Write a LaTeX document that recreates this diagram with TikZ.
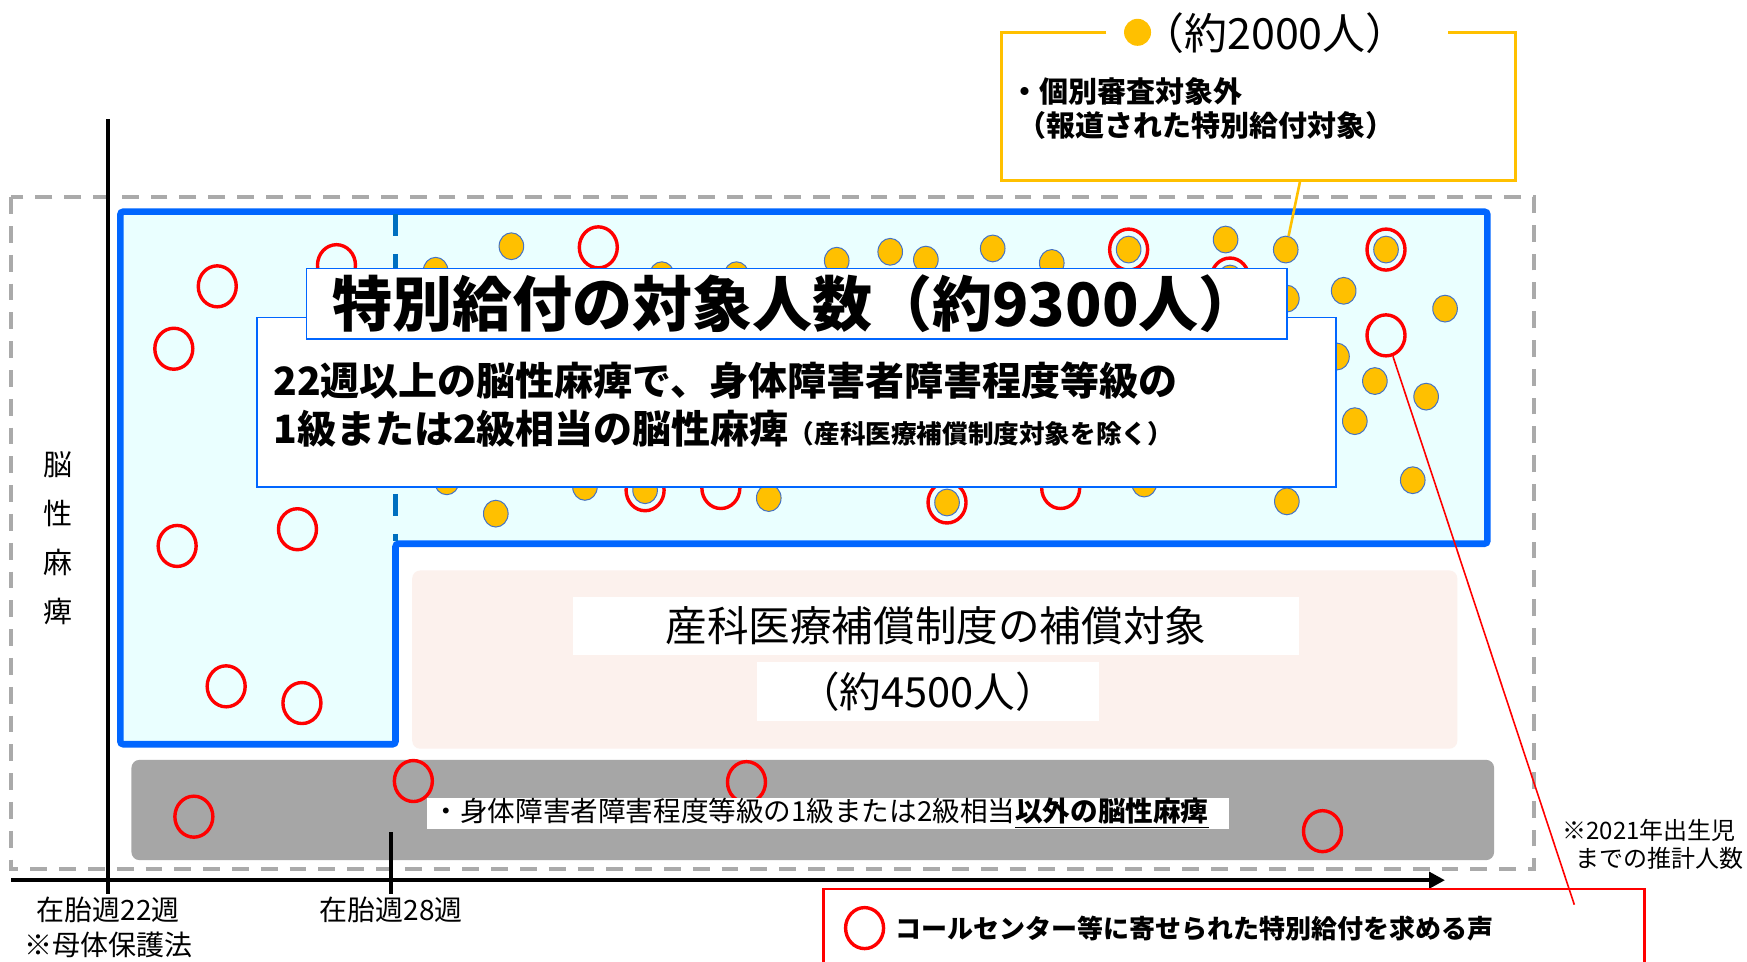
\documentclass[tikz,border=0pt]{standalone}
\usepackage{fontspec}
\setmainfont{Noto Sans CJK JP}
\usetikzlibrary{arrows.meta,shapes.geometric}
\definecolor{lblue}{RGB}{0,102,255}
\definecolor{dblue}{RGB}{0,112,192}
\definecolor{lcyan}{RGB}{234,255,255}
\definecolor{lpink}{RGB}{252,241,237}
\definecolor{mgray}{RGB}{166,166,166}
\definecolor{dashgray}{RGB}{170,170,170}
\definecolor{gold}{RGB}{255,192,0}
\definecolor{dotedge}{RGB}{68,114,196}
\begin{document}
\begin{tikzpicture}[x=0.5571pt,y=-0.5571pt,
  rc/.style={ellipse,draw=red,line width=1.7pt,minimum width=19pt,minimum height=20.5pt,inner sep=0pt},
  yd/.style={ellipse,fill=gold,draw=dotedge,line width=0.5pt,minimum width=12.3pt,minimum height=13.4pt,inner sep=0pt},
  txt/.style={inner sep=0pt,anchor=west},
  whitebox/.style={fill=white,inner sep=0pt},
  bluebox/.style={fill=white,draw=lblue,line width=0.9pt,inner sep=0pt},
  fsz/.style={font=\fontsize{#1}{#1}\selectfont}
]
\useasboundingbox (0,0) rectangle (1568,863);
\fill[white] (0,0) rectangle (1568,863);

% outer dashed frame
\draw[dashgray,line width=2pt,dash pattern=on 8.4pt off 6pt] (10,177) rectangle (1377,780);

% blue L region
\filldraw[draw=lblue,fill=lcyan,line width=3.3pt,rounded corners=1.5pt]
  (108,190) -- (1335,190) -- (1335,488) -- (355,488) -- (355,668) -- (108,668) -- cycle;

% pink region
\fill[lpink,rounded corners=4pt] (370,512) rectangle (1308,672);
\node[whitebox,minimum width=363.2pt,minimum height=29pt] (pk1) at (840,562) {};
\node[fsz=20.8] (pk1t) at (840,562) {産科医療補償制度の補償対象};
\node[whitebox,minimum width=171pt,minimum height=29.5pt] (pk2) at (832.5,620.5) {};
\node[fsz=20.8] (pk2t) at (832.5,621) {（約4500人）};

% gray region
\fill[mgray,rounded corners=4pt] (118,682) rectangle (1341,772);

% yellow dots
\foreach \x/\y [count=\i] in {391/243,459/221,594/247,661/247,751/234,799/226,831/233,891/223,944/236,1013/224,1100/215,1104/250,1244/224,1155/268,1206/261,1297/277,1200/320,1234/342,1280/356,1216/378,1268/431,1155/450,445/461,525/437,579/440,690/447,850/451,1027/434,401/432}
  \node[yd] (d\i) at (\x,\y) {};
\node[yd] (dl) at (1154,224) {};

% red circles
\foreach \x/\y [count=\i] in {195/257,156/313,302/238,159/490,267/475,203/616,271/631,537/222,1013/224,1104/250,1244/224,579/440,647/438,850/451,952/438,371/701,670/702,174/733,1187/746}
  \node[rc] (r\i) at (\x,\y) {};
\node[rc] (rl) at (1244,301) {};

% blue dashed 28-week line
\draw[dblue,line width=2.2pt,dash pattern=on 11pt off 9pt] (355,192) -- (355,486);

% description box and title box
\node[bluebox,minimum width=539.3pt,minimum height=84.7pt] (desc) at (715,361) {};
\node[txt,font=\bfseries\fontsize{19.5}{19.5}\selectfont] (desc1) at (245,342) {22週以上の脳性麻痺で、身体障害者障害程度等級の};
\node[txt,font=\bfseries\fontsize{19.5}{19.5}\selectfont] (desc2) at (245,385) {1級または2級相当の脳性麻痺{\fontsize{12.8}{12.8}\selectfont （産科医療補償制度対象を除く）}};
\node[bluebox,minimum width=490.2pt,minimum height=35.1pt] (titlebox) at (715,272.5) {};
\node[txt,font=\bfseries\fontsize{30}{30}\selectfont] (title) at (298,273) {特別給付の対象人数（約9300人）};

% gray text box
\node[whitebox,minimum width=401pt,minimum height=15.6pt] (gbox) at (743,730) {};
\node[txt,fsz=13.8] (gtext) at (388,730) {・身体障害者障害程度等級の1級または2級相当\underline{\textbf{以外の脳性麻痺}}};

% axes
\coordinate (ax0) at (10,790);
\coordinate (ax1) at (1297,790);
\coordinate (v0) at (97,107);
\coordinate (v1) at (97,802);
\coordinate (t0) at (351,747);
\coordinate (t1) at (351,802);
\draw[line width=2pt,-{Triangle[length=8pt,width=8pt]}] (ax0) -- (ax1);
\draw[line width=2pt] (v0) -- (v1);
\draw[line width=2pt] (t0) -- (t1);

\node[fsz=14] (l22) at (97,817) {在胎週22週};
\node[fsz=14] (lmb) at (97,848) {※母体保護法};
\node[fsz=14] (l28) at (351,817) {在胎週28週};
\node[align=center,font=\fontsize{14.5}{24.5}\selectfont,inner sep=0pt] (cp) at (52,483) {脳\\性\\麻\\痺};

% yellow callout box
\draw[gold,line width=1.7pt] (993,29) -- (899,29) -- (899,162) -- (1360,162) -- (1360,29) -- (1300,29);
\node[circle,fill=gold,minimum size=13.5pt,inner sep=0pt] (ydot) at (1021,29) {};
\node[txt,fsz=21.5] (ycount) at (1024,30) {（約2000人）};
\node[txt,font=\bfseries\fontsize{14.5}{14.5}\selectfont] (yl1) at (907,82) {・個別審査対象外};
\node[txt,font=\bfseries\fontsize{14.5}{14.5}\selectfont] (yl2) at (913,113) {（報道された特別給付対象）};
\coordinate (yleader) at (1167,162);
\draw[gold,line width=1.3pt] (yleader) -- (dl);

% red leader and legend
\coordinate (rend) at (1413,812);
\draw[red,line width=0.8pt] (rl) -- (rend);
\draw[red,line width=1.2pt] (739,870) -- (739,798) -- (1476,798) -- (1476,870);
\node[rc] (legc) at (776,833) {};
\node[txt,font=\bfseries\fontsize{13}{13}\selectfont] (legt) at (803,833) {コールセンター等に寄せられた特別給付を求める声};

% note
\node[txt,fsz=12] (n1) at (1402,745) {※2021年出生児};
\node[txt,fsz=12] (n2) at (1414,770) {までの推計人数};
\end{tikzpicture}
\end{document}
